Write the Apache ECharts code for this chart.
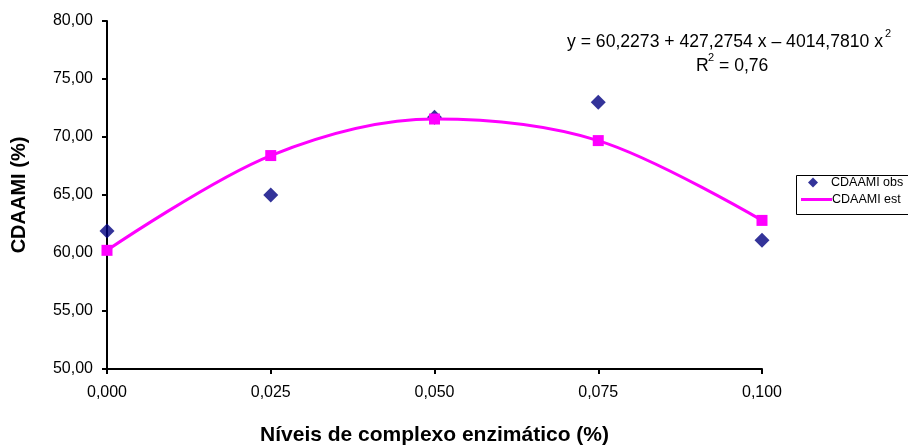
<!DOCTYPE html>
<html>
<head>
<meta charset="utf-8">
<script src="https://cdn.jsdelivr.net/npm/echarts@6/dist/echarts.min.js"></script>
<style>html,body{margin:0;padding:0;background:#fff;}#c{width:908px;height:448px;}</style>
</head>
<body>
<div id="c"></div>
<script>
var levels = [0.000, 0.025, 0.050, 0.075, 0.100];
var obsValues = [61.9, 65.0, 71.7, 73.0, 61.1];
var estValues = [60.23, 68.40, 71.55, 69.69, 62.81];
var yTicks = [50, 55, 60, 65, 70, 75, 80];
var xTicks = [0.000, 0.025, 0.050, 0.075, 0.100];

var chart = echarts.init(document.getElementById('c'), null, {renderer: 'canvas'});
var font = 'Arial, "Liberation Sans", sans-serif';
function pairs(xs, ys) { return xs.map(function (x, i) { return [x, ys[i]]; }); }

chart.setOption({
  animation: false,
  backgroundColor: '#fff',
  grid: {left: 107, right: 146, top: 21, bottom: 79, containLabel: false, outerBoundsMode: 'none'},
  xAxis: {
    type: 'value', min: xTicks[0], max: xTicks[xTicks.length - 1], interval: 0.025,
    name: 'Níveis de complexo enzimático (%)', nameLocation: 'middle', nameGap: 56,
    nameTextStyle: {fontFamily: font, fontWeight: 'bold', fontSize: 21, color: '#000'},
    axisLine: {lineStyle: {color: '#000', width: 2}},
    axisTick: {show: true, length: 5, lineStyle: {color: '#000', width: 2}},
    axisLabel: {fontFamily: font, fontSize: 16, color: '#000', margin: 16,
      formatter: function (v) { return v.toFixed(3).replace('.', ','); }},
    splitLine: {show: false}
  },
  yAxis: {
    type: 'value', min: yTicks[0], max: yTicks[yTicks.length - 1], interval: 5,
    name: 'CDAAMI (%)', nameLocation: 'middle', nameGap: 78, nameRotate: 90,
    nameTextStyle: {fontFamily: font, fontWeight: 'bold', fontSize: 20, color: '#000'},
    axisLine: {show: true, lineStyle: {color: '#000', width: 2}},
    axisTick: {show: true, length: 5, lineStyle: {color: '#000', width: 2}},
    axisLabel: {fontFamily: font, fontSize: 16, color: '#000', margin: 14,
      formatter: function (v) { return v.toFixed(2).replace('.', ','); }},
    splitLine: {show: false}
  },
  legend: [
    {data: [{name: 'CDAAMI obs', icon: 'diamond'}], left: 808, top: 176, orient: 'vertical',
      itemWidth: 10, itemHeight: 10, padding: 0,
      textStyle: {fontFamily: font, fontSize: 12.5, color: '#000', padding: [0, 0, 0, 8]}},
    {data: [{name: 'CDAAMI est', icon: 'rect'}], left: 801, top: 193, orient: 'vertical',
      itemWidth: 31, itemHeight: 3, padding: 0,
      textStyle: {fontFamily: font, fontSize: 12.5, color: '#000', padding: [0, 0, 0, -5]}}
  ],
  graphic: [
    {type: 'rect', left: 794, top: 173, shape: {width: 118, height: 39},
      style: {fill: 'none', stroke: '#000', lineWidth: 1}, silent: true},
    {type: 'text', left: 567, top: 33,
      style: {text: 'y = 60,2273 + 427,2754 x – 4014,7810 x', font: '17.6px ' + font, fill: '#000'}},
    {type: 'text', left: 885, top: 28,
      style: {text: '2', font: '11px ' + font, fill: '#000'}},
    {type: 'text', left: 696, top: 57,
      style: {text: 'R', font: '17.6px ' + font, fill: '#000'}},
    {type: 'text', left: 708, top: 52,
      style: {text: '2', font: '11px ' + font, fill: '#000'}},
    {type: 'text', left: 719, top: 57,
      style: {text: '= 0,76', font: '17.6px ' + font, fill: '#000'}}
  ],
  series: [
    {name: 'CDAAMI est', type: 'line', data: pairs(levels, estValues), smooth: 0.333,
      symbol: 'rect', symbolSize: 11, z: 3,
      lineStyle: {color: '#FF00FF', width: 3}, itemStyle: {color: '#FF00FF'}},
    {name: 'CDAAMI obs', type: 'scatter', data: pairs(levels, obsValues),
      symbol: 'diamond', symbolSize: 15, z: 2,
      itemStyle: {color: '#000080'}}
  ]
});
</script>
</body>
</html>
